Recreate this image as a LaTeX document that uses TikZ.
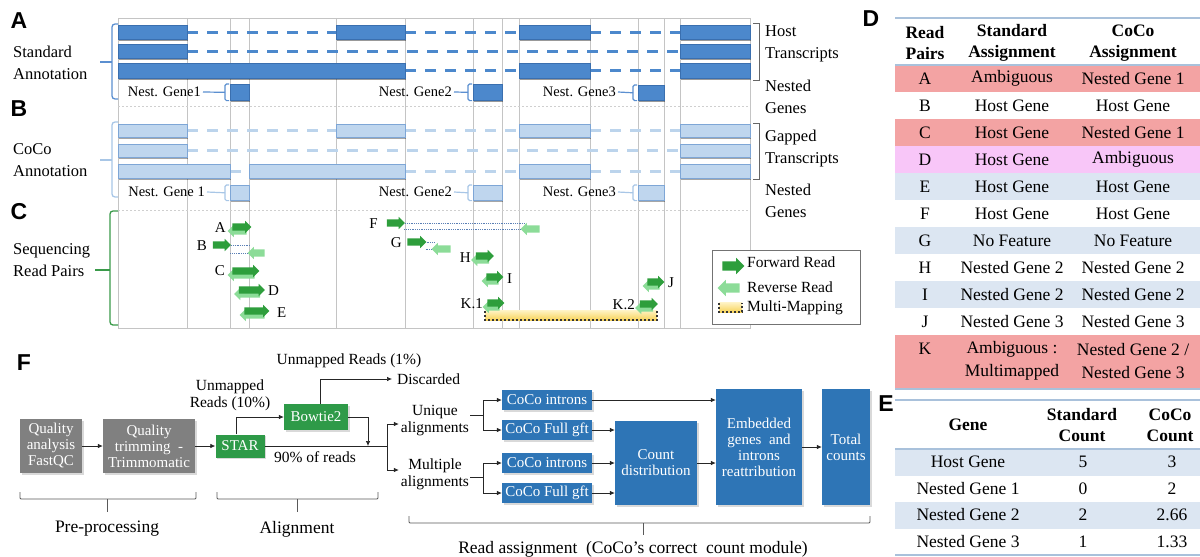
\documentclass[tikz,border=0pt]{standalone}
\usepackage{fontspec}
\setmainfont{Liberation Serif}
\newfontfamily\panelfont{Liberation Sans}
\usetikzlibrary{shapes.arrows,shadows,arrows.meta,calc}

\definecolor{exdark}{HTML}{4C88CC}
\definecolor{exdarkline}{HTML}{3A6FAF}
\definecolor{exlight}{HTML}{BFD6EE}
\definecolor{exlightline}{HTML}{7EA6D6}
\definecolor{dashlight}{HTML}{BCD4EC}
\definecolor{bracketA}{HTML}{5B8FD0}
\definecolor{bracketB}{HTML}{A8C6E6}
\definecolor{bracketC}{HTML}{3A9A4A}
\definecolor{gridgray}{HTML}{C4C4C4}
\definecolor{sepgray}{HTML}{CFCFCF}
\definecolor{fwdgreen}{HTML}{2E9E3C}
\definecolor{revgreen}{HTML}{8CDC98}
\definecolor{linkblue}{HTML}{5A7FB5}
\definecolor{mmtop}{HTML}{FFF4C8}
\definecolor{mmbot}{HTML}{F7D35A}
\definecolor{rowsalmon}{HTML}{F3A3A3}
\definecolor{rowpink}{HTML}{F8C6F8}
\definecolor{rowblue}{HTML}{DCE6F2}
\definecolor{rulecol}{HTML}{A9C1DB}
\definecolor{boxgray}{HTML}{808080}
\definecolor{boxgreen}{HTML}{2E9A48}
\definecolor{boxblue}{HTML}{2E75B6}

\begin{document}
\begin{tikzpicture}[
  x=1pt, y=-1pt,
  panel/.style={font=\panelfont\bfseries\fontsize{23}{23}\selectfont, inner sep=0pt},
  side/.style={font=\fontsize{16.5}{22}\selectfont, inner sep=0pt, align=left, anchor=west},
  gname/.style={font=\fontsize{14.5}{16}\selectfont, inner sep=0pt, anchor=east},
  rlabel/.style={font=\fontsize{15}{16}\selectfont, inner sep=0pt},
  gridline/.style={draw=gridgray, line width=0.7pt},
  sepline/.style={draw=sepgray, line width=0.8pt, dash pattern=on 2pt off 2pt},
  exonA/.style={fill=exdark, draw=exdarkline, line width=0.6pt,
    drop shadow={shadow xshift=0.5pt, shadow yshift=-2pt, opacity=0.4, fill=black}},
  exonB/.style={fill=exlight, draw=exlightline, line width=0.6pt,
    drop shadow={shadow xshift=0.5pt, shadow yshift=-2pt, opacity=0.35, fill=black}},
  nestA/.style={exonA, inner sep=0pt, anchor=north west},
  nestB/.style={exonB, inner sep=0pt, anchor=north west},
  intronA/.style={draw=exdark, line width=3pt, dash pattern=on 11pt off 9pt},
  intronB/.style={draw=dashlight, line width=3pt, dash pattern=on 11pt off 9pt},
  nlinkA/.style={draw=bracketA, line width=1.2pt, rounded corners=1.5pt},
  nlinkB/.style={draw=bracketB, line width=1.2pt, rounded corners=1.5pt},
  fwdread/.style={single arrow, fill=fwdgreen, draw=none, minimum height=#1,
    text height=7pt, text depth=0pt, minimum width=12pt, single arrow head extend=2.5pt,
    single arrow head indent=0pt, inner sep=0pt},
  fwdread/.default=18pt,
  revread/.style={fwdread=#1, fill=revgreen, shape border rotate=180},
  revread/.default=18pt,
  bigread/.style={text height=9pt, minimum width=16pt, single arrow head extend=3.5pt},
  link/.style={draw=linkblue, line width=0.8pt, densely dotted},
  mmdots/.style={draw=black!80, line width=1.8pt, dash pattern=on 1.8pt off 2.2pt},
  cell/.style={font=\fontsize{17.5}{23}\selectfont, inner sep=0pt, align=center},
  head/.style={font=\fontsize{17.5}{21}\selectfont\bfseries, inner sep=0pt, align=center},
  rule/.style={draw=rulecol, line width=1.2pt},
  flowbox/.style={text=white, font=\fontsize{15}{16}\selectfont, align=center,
    inner sep=0pt, drop shadow={shadow xshift=1.5pt, shadow yshift=-1.5pt, opacity=0.3}},
  graybox/.style={flowbox, fill=boxgray},
  greenbox/.style={flowbox, fill=boxgreen},
  bluebox/.style={flowbox, fill=boxblue},
  ftext/.style={font=\fontsize{15.5}{17}\selectfont, inner sep=0pt, align=center},
  gtext/.style={font=\fontsize{17.5}{20}\selectfont, inner sep=0pt},
  line/.style={draw=black!85, line width=0.7pt},
  arr/.style={line, -{Latex[length=5pt,width=4.5pt]}},
  grp/.style={draw=black!65, line width=0.8pt, rounded corners=1pt}
]
\useasboundingbox (0,0) rectangle (1200,557);

% ---------------- panels A-C: gene model frame and grid ----------------
\draw[gridline] (118,18) rectangle (750,328);
\foreach \gx in {187,230,249,336,405,473,502,519,590,638,664,680}
  \draw[gridline] (\gx,18) -- (\gx,328);
\draw[sepline] (118,106) -- (750,106);
\draw[sepline] (118,210) -- (750,210);

% panel letters
\node[panel] (pA) at (19,21) {A};
\node[panel] (pB) at (19,109) {B};
\node[panel] (pC) at (19,212) {C};
\node[panel] (pD) at (871,19) {D};
\node[panel] (pE) at (886,404) {E};
\node[panel] (pF) at (24,363) {F};

% ---------------- A: standard annotation ----------------
\node[side] (stdl) at (13,63) {Standard\\Annotation};
\draw[bracketA, line width=1.3pt, rounded corners=3pt] (118,24) -- (112,24) -- (112,99) -- (118,99);
\draw[bracketA, line width=1.3pt] (100,62) -- (112,62);

% host transcript 1
\draw[intronA] (187,32) -- (336,32);
\draw[intronA] (405,32) -- (519,32);
\draw[intronA] (590,32) -- (680,32);
\path[exonA] (118,25) rectangle (187,39);
\path[exonA] (336,25) rectangle (405,39);
\path[exonA] (519,25) rectangle (590,39);
\path[exonA] (680,25) rectangle (750,39);
% host transcript 2
\draw[intronA] (187,51) -- (680,51);
\path[exonA] (118,44) rectangle (187,58);
\path[exonA] (680,44) rectangle (750,58);
% host transcript 3
\draw[intronA] (405,70.5) -- (519,70.5);
\draw[intronA] (590,70.5) -- (680,70.5);
\path[exonA] (118,63) rectangle (405,78);
\path[exonA] (519,63) rectangle (590,78);
\path[exonA] (680,63) rectangle (750,78);

% nested genes (standard)
\node[nestA, minimum width=19pt, minimum height=16pt] (nA1) at (230,84) {};
\node[nestA, minimum width=29pt, minimum height=16pt] (nA2) at (473,84) {};
\node[nestA, minimum width=26pt, minimum height=15pt] (nA3) at (638,85) {};
\node[gname] (lnA1) at (201,92) {Nest. Gene1};
\node[gname] (lnA2) at (452,92) {Nest. Gene2};
\node[gname] (lnA3) at (616,92) {Nest. Gene3};
\foreach \k in {1,2,3}{
  \draw[nlinkA] ([xshift=2pt]lnA\k.east) -- ([xshift=-5pt]nA\k.west);
  \draw[nlinkA] ([xshift=-1pt]nA\k.north west) -| ([xshift=-5pt]nA\k.west) |- ([xshift=-1pt]nA\k.south west);
}

% right-hand labels
\draw[black!60, line width=0.9pt] (753,23) -- (759,23) -- (759,80) -- (753,80);
\node[side] (hostl) at (765,44) {Host\\Transcripts};
\node[side] (nestl1) at (765,97) {Nested\\Genes};

% ---------------- B: CoCo annotation ----------------
\node[side] (cocol) at (13,160) {CoCo\\Annotation};
\draw[bracketB, line width=1.3pt, rounded corners=3pt] (118,122) -- (112,122) -- (112,197) -- (118,197);
\draw[bracketB, line width=1.3pt] (100,160) -- (112,160);

% gapped transcript 1
\draw[intronB] (187,130.5) -- (336,130.5);
\draw[intronB] (405,130.5) -- (519,130.5);
\draw[intronB] (590,130.5) -- (680,130.5);
\path[exonB] (118,124) rectangle (187,137);
\path[exonB] (336,124) rectangle (405,137);
\path[exonB] (519,124) rectangle (590,137);
\path[exonB] (680,124) rectangle (750,137);
% gapped transcript 2
\draw[intronB] (187,150.5) -- (680,150.5);
\path[exonB] (118,144) rectangle (187,157);
\path[exonB] (680,144) rectangle (750,157);
% gapped transcript 3
\draw[intronB] (230,171) -- (249,171);
\draw[intronB] (405,171) -- (519,171);
\draw[intronB] (590,171) -- (680,171);
\path[exonB] (118,164) rectangle (230,178);
\path[exonB] (249,164) rectangle (405,178);
\path[exonB] (519,164) rectangle (590,178);
\path[exonB] (680,164) rectangle (750,178);

% nested genes (CoCo)
\node[nestB, minimum width=19pt, minimum height=15pt] (nB1) at (230,185) {};
\node[nestB, minimum width=29pt, minimum height=15pt] (nB2) at (473,185) {};
\node[nestB, minimum width=26pt, minimum height=15pt] (nB3) at (638,185) {};
\node[gname] (lnB1) at (205,192) {Nest. Gene 1};
\node[gname] (lnB2) at (452,192) {Nest. Gene2};
\node[gname] (lnB3) at (616,192) {Nest. Gene3};
\foreach \k in {1,2,3}{
  \draw[nlinkB] ([xshift=2pt]lnB\k.east) -- ([xshift=-5pt]nB\k.west);
  \draw[nlinkB] ([xshift=-1pt]nB\k.north west) -| ([xshift=-5pt]nB\k.west) |- ([xshift=-1pt]nB\k.south west);
}

\draw[black!60, line width=0.9pt] (753,123) -- (759,123) -- (759,179) -- (753,179);
\node[side] (gapl) at (765,149) {Gapped\\Transcripts};
\node[side] (nestl2) at (765,201) {Nested\\Genes};

% ---------------- C: sequencing read pairs ----------------
\node[side] (seql) at (13,260) {Sequencing\\Read Pairs};
\draw[bracketC, line width=1.3pt, rounded corners=3pt] (118,211) -- (110,211) -- (110,325) -- (118,325);
\draw[bracketC, line width=1.3pt] (95,270) -- (110,270);

% pair A
\node[revread=19pt] (rAr) at (239,231) {};
\node[fwdread=19pt] (rAf) at (240,227) {};
\node[rlabel, anchor=east] (lA) at (226,228) {A};
% pair B
\node[fwdread] (rBf) at (220,245) {};
\node[revread=17pt] (rBr) at (258,253) {};
\draw[link] (rBf.tip) -- ($(rBf.tip -| rBr.tip)+(3,0)$);
\draw[link] (rBr.tip) -- ($(rBr.tip -| rBf.tip)+(-1,0)$);
\node[rlabel, anchor=east] (lB) at (207,246) {B};
% pair C
\node[revread=27pt] (rCr) at (243,275) {};
\node[fwdread=27pt] (rCf) at (244,271) {};
\node[rlabel, anchor=east] (lC) at (225,271) {C};
% pair D
\node[revread=26pt] (rDr) at (249,294) {};
\node[fwdread=26pt] (rDf) at (250,290) {};
\node[rlabel, anchor=west] (lD) at (268,291) {D};
% pair E
\node[revread=25pt] (rEr) at (254,315) {};
\node[fwdread=25pt] (rEf) at (255,311) {};
\node[rlabel, anchor=west] (lE) at (277,313) {E};
% pair F
\node[fwdread] (rFf) at (394,223) {};
\node[revread=19pt] (rFr) at (532,229) {};
\draw[link] (rFf.tip) -- ($(rFf.tip -| rFr.tip)+(5,0)$);
\draw[link] (rFr.tip) -- ($(rFr.tip -| rFf.tip)+(-1,0)$);
\node[rlabel, anchor=east] (lF) at (378,224) {F};
% pair G
\node[fwdread=19pt] (rGf) at (415,242) {};
\node[revread=19pt] (rGr) at (443,249) {};
\draw[link] (rGf.tip) -- ($(rGf.tip -| rGr.tip)+(4,0)$);
\draw[link] (rGr.tip) -- ($(rGr.tip -| rGf.tip)+(-1,0)$);
\node[rlabel, anchor=east] (lG) at (402,243) {G};
% pair H
\node[revread] (rHr) at (482,260) {};
\node[fwdread] (rHf) at (483,256) {};
\node[rlabel, anchor=east] (lH) at (471,258) {H};
% pair I
\node[revread=17pt] (rIr) at (492,281) {};
\node[fwdread=17pt] (rIf) at (493,277) {};
\node[rlabel, anchor=west] (lI) at (507,279) {I};
% pair J
\node[revread=17pt] (rJr) at (653,286) {};
\node[fwdread=17pt] (rJf) at (654,282) {};
\node[rlabel, anchor=west] (lJ) at (668,283) {J};
% pair K: multi-mapped read
\shade[top color=mmtop, bottom color=mmbot] (485,310) rectangle (657,320);
\draw[mmdots] (485,311) -- (485,320) -- (657,320) -- (657,311);
\node[revread=17pt] (rK1r) at (493,307) {};
\node[fwdread=17pt] (rK1f) at (494,303) {};
\node[rlabel, anchor=east] (lK1) at (483,304) {K.1};
\node[revread] (rK2r) at (646,308) {};
\node[fwdread] (rK2f) at (647,304) {};
\node[rlabel, anchor=east] (lK2) at (635,305) {K.2};

% legend
\node[draw=black!55, line width=0.8pt, fill=white, minimum width=148pt, minimum height=74pt,
  anchor=north west, inner sep=0pt] (legend) at (712,250) {};
\node[fwdread=22pt, bigread] (lgf) at (731,266) {};
\node[ftext, anchor=west] (lgft) at (747,262) {Forward Read};
\node[revread=22pt, bigread] (lgr) at (731,288) {};
\node[ftext, anchor=west] (lgrt) at (747,287) {Reverse Read};
\shade[top color=mmtop, bottom color=mmbot] (719,302) rectangle (742,312);
\draw[mmdots] (719,303) -- (719,312) -- (742,312) -- (742,303);
\node[ftext, anchor=west] (lgmt) at (747,308) {Multi-Mapping};

% ---------------- D: read pair assignment table ----------------
\foreach \i/\c in {0/rowsalmon,1/white,2/rowsalmon,3/rowpink,4/rowblue,5/white,6/rowblue,7/white,8/rowblue,9/white}
  \fill[\c] (895,{65+27*\i}) rectangle (1200,{92+27*\i});
\fill[rowsalmon] (895,335) rectangle (1200,389);
\draw[rule] (895,18) -- (1200,18);
\draw[rule] (895,65) -- (1200,65);
\draw[rule] (895,389) -- (1200,389);
\node[head] (hd1) at (925,43) {Read\\Pairs};
\node[head] (hd2) at (1012,43) {Standard\\Assignment};
\node[head] (hd3) at (1133,43) {CoCo\\Assignment};
\foreach \r/\s/\c [count=\k from 0] in {A/Ambiguous/Nested Gene 1,B/Host Gene/Host Gene,C/Host Gene/Nested Gene 1,D/Host Gene/Ambiguous,E/Host Gene/Host Gene,F/Host Gene/Host Gene,G/No Feature/No Feature,H/Nested Gene 2/Nested Gene 2,I/Nested Gene 2/Nested Gene 2,J/Nested Gene 3/Nested Gene 3}{
  \node[cell] (d\r-1) at (925,{78.5+27*\k}) {\r};
  \node[cell] (d\r-2) at (1012,{78.5+27*\k}) {\s};
  \node[cell] (d\r-3) at (1133,{78.5+27*\k}) {\c};
}
\node[cell] (dK-1) at (925,349) {K};
\node[cell] (dK-2) at (1012,361) {Ambiguous :\\Multimapped};
\node[cell] (dK-3) at (1133,361) {Nested Gene 2 /\\Nested Gene 3};

% ---------------- E: gene count table ----------------
\fill[rowblue] (895,449) rectangle (1200,475.5);
\fill[rowblue] (895,502) rectangle (1200,528.5);
\draw[rule] (895,400) -- (1200,400);
\draw[rule] (895,449) -- (1200,449);
\draw[rule] (895,555) -- (1200,555);
\node[head] (he1) at (968,425) {Gene};
\node[head] (he2) at (1082,425) {Standard\\Count};
\node[head] (he3) at (1170,425) {CoCo\\Count};
\foreach \g/\s/\c [count=\k from 0] in {Host Gene/5/3,Nested Gene 1/0/2,Nested Gene 2/2/2.66,Nested Gene 3/1/1.33}{
  \node[cell] (e\k-1) at (968,{462+26.5*\k}) {\g};
  \node[cell] (e\k-2) at (1083,{462+26.5*\k}) {\s};
  \node[cell] (e\k-3) at (1172,{462+26.5*\k}) {\c};
}

% ---------------- F: CoCo pipeline ----------------
\node[graybox, minimum width=62pt, minimum height=54pt] (qa) at (51,446) {Quality\\analysis\\FastQC};
\node[graybox, minimum width=92pt, minimum height=54pt] (qt) at (149,446) {Quality\\trimming\ \ -\\Trimmomatic};
\node[greenbox, minimum width=49pt, minimum height=23pt] (star) at (240,446) {STAR};
\node[greenbox, minimum width=64pt, minimum height=26pt] (bowtie) at (316,417) {Bowtie2};
\node[ftext] (unm10) at (230,395) {Unmapped\\Reads (10\%)};
\node[ftext] (unm1) at (349,361) {Unmapped Reads (1\%)};
\node[ftext, anchor=west] (disc) at (397,379) {Discarded};
\node[ftext] (pct90) at (315,457) {90\% of reads};
\coordinate (merge) at (368,446);
\coordinate (br) at (387,446);
\node[ftext] (uniq) at (435,421) {Unique\\alignments};
\node[ftext] (mult) at (435,474) {Multiple\\alignments};

\node[bluebox, minimum width=90pt, minimum height=20pt] (ci1) at (547,400) {CoCo introns};
\node[bluebox, minimum width=90pt, minimum height=20pt] (fg1) at (547,430) {CoCo Full gft};
\node[bluebox, minimum width=90pt, minimum height=20pt] (ci2) at (547,463) {CoCo introns};
\node[bluebox, minimum width=90pt, minimum height=20pt] (fg2) at (547,493) {CoCo Full gft};
\node[bluebox, minimum width=82pt, minimum height=84pt] (cd) at (656,463) {Count\\distribution};
\node[bluebox, minimum width=86pt, minimum height=116pt] (emb) at (759,447) {Embedded\\genes\ \ and\\introns\\reattribution};
\node[bluebox, minimum width=48pt, minimum height=116pt] (tot) at (846,447) {Total\\counts};

\draw[arr] (qa) -- (qt);
\draw[arr] (qt) -- (star);
\draw[arr] ([xshift=-4pt]star.north) |- (bowtie.west);
\draw[arr] ([xshift=4pt]bowtie.north) |- ([xshift=-5pt]disc.west);
\draw[arr] (bowtie.east) -| (merge);
\draw[line] (star.east) -- (br);
\draw[arr] (br) |- ([xshift=-2pt,yshift=-3pt]uniq.west);
\draw[arr] (br) |- ([xshift=-2pt,yshift=4pt]mult.west);
\draw[line] ([xshift=1pt,yshift=6pt]uniq.east) -- ++(13,0) coordinate (uj);
\draw[arr] (uj) |- (ci1.west);
\draw[arr] (uj) |- (fg1.west);
\draw[line] ([xshift=1pt,yshift=-3pt]mult.east) -- ++(13,0) coordinate (mj);
\draw[arr] (mj) |- (ci2.west);
\draw[arr] (mj) |- (fg2.west);
\draw[arr] (ci1.east) -- (ci1.east -| emb.west);
\draw[arr] (fg1.east) -- (fg1.east -| cd.west);
\draw[arr] (ci2.east) -- (ci2.east -| cd.west);
\draw[arr] (fg2.east) -- (fg2.east -| cd.west);
\draw[arr] (cd.east) -- (cd.east -| emb.west);
\draw[arr] (emb.east) -- (tot.west);

% stage brackets
\draw[grp] (20,492) -- (20,499) -- (196,499) -- (196,492);
\draw[grp] (107,499) -- (107,512);
\node[gtext] (prep) at (107,529) {Pre-processing};
\draw[grp] (217,492) -- (217,499) -- (378,499) -- (378,492);
\draw[grp] (297,499) -- (297,512);
\node[gtext] (aln) at (297,529) {Alignment};
\draw[grp] (409,516) -- (409,523) -- (870,523) -- (870,516);
\draw[grp] (643,523) -- (643,535);
\node[gtext] (rass) at (633,549) {Read assignment\ \ (CoCo’s correct\ \ count module)};
\end{tikzpicture}
\end{document}
